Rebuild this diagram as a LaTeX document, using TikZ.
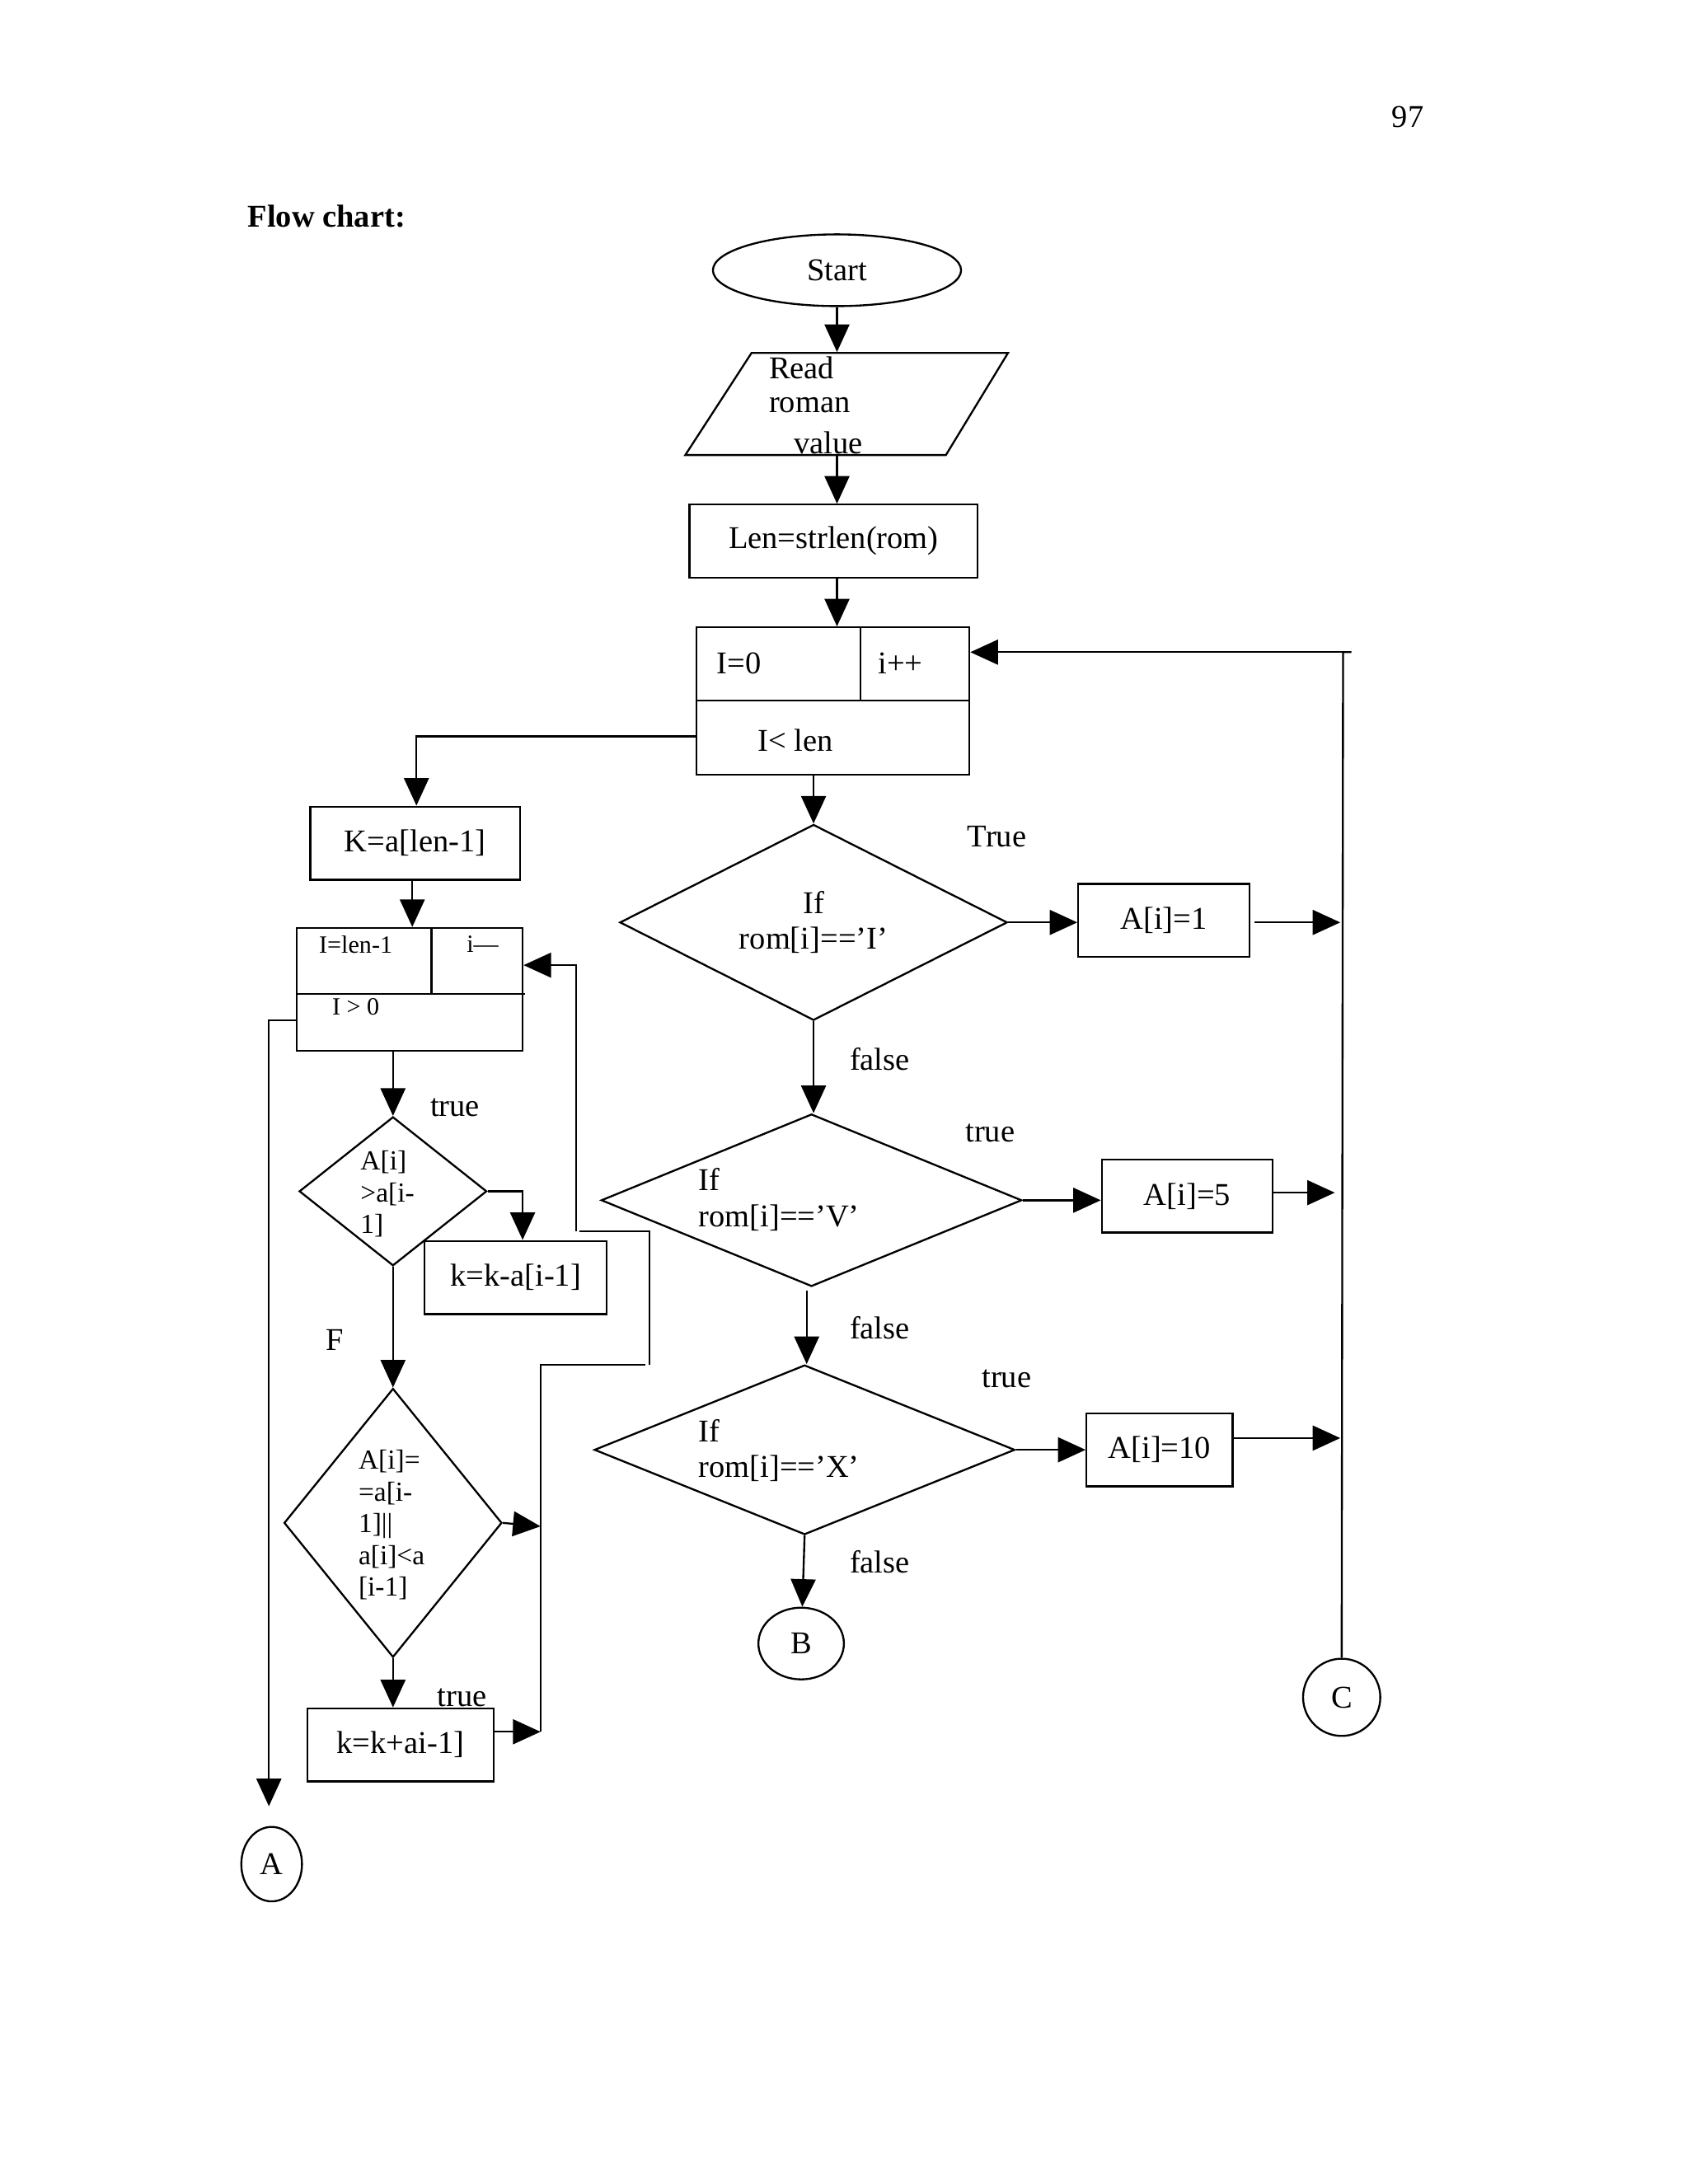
\documentclass[tikz,border=0pt]{standalone}
\usepackage{fontspec}
\setmainfont{Liberation Serif}
\usetikzlibrary{arrows.meta,shapes.geometric}
\begin{document}
\begin{tikzpicture}[x=0.5pt,y=-0.5pt,line width=0.7pt,font=\fontsize{11.5}{13}\selectfont,
  box/.style={draw,rectangle,inner sep=0pt},
  dia/.style={draw,diamond,inner sep=0pt},
  circ/.style={draw,ellipse,inner sep=0pt},
  lbl/.style={inner sep=0pt},
  arr/.style={-{Triangle[length=10pt,width=9pt]}}]
\useasboundingbox (0,0) rectangle (1224,1584);
\node[lbl] (pg) at (1021,85) {97};
\node[lbl,anchor=west,font=\fontsize{11.5}{13}\selectfont\bfseries] (title) at (179,157) {Flow chart:};

% main column
\node[circ,minimum width=90pt,minimum height=26pt] (start) at (607,196) {Start};
\draw (497,330) -- (545,256) -- (731,256) -- (686,330) -- cycle;
\node[lbl,minimum width=117pt,minimum height=37pt] (read) at (614,293) {};
\node[lbl,anchor=west] (r1) at (557,267) {Read};
\node[lbl,anchor=west] (r2) at (557,294) {roman};
\node[lbl,anchor=west] (r3) at (575,321) {value};
\node[box,minimum width=104.5pt,minimum height=26.5pt] (len) at (604.5,392.5) {Len=strlen(rom)};
\node[box,minimum width=99pt,minimum height=53.5pt] (loop) at (604,508.5) {};
\draw (loop.west |- 0,508) -- (loop.east |- 0,508);
\draw (624,455) -- (624,508);
\node[lbl] (i0) at (536,481) {I=0};
\node[lbl] (ipp) at (653,481) {i++};
\node[lbl] (ilen) at (577,537) {I< len};

\draw[arr] (start) -- (start |- read.north);
\draw[arr] (607,330) -- (len.north -| 607,0);
\draw[arr] (607,419) -- (loop.north -| 607,0);

\node[dia,minimum width=140.5pt,minimum height=71pt] (d1) at (590,669) {};
\node[lbl,align=center] at (590,669) {If\\rom[i]==’I’};
\node[dia,minimum width=152.5pt,minimum height=62.5pt] (d2) at (588.5,870.5) {};
\node[lbl,align=left] at (565,870) {If\\rom[i]==’V’};
\node[dia,minimum width=152.5pt,minimum height=61.5pt] (d3) at (583.5,1051.5) {};
\node[lbl,align=left] at (565,1052) {If\\rom[i]==’X’};
\node[circ,minimum width=31pt,minimum height=26pt] (B) at (581,1192) {B};

\draw[arr] (590,562) -- (d1.north);
\draw[arr] (d1.south) -- (d2.north -| d1.south);
\draw[arr] (585,936) -- (d3.north -| 585,0);
\draw[arr] (d3.south) -- (B);
\node[lbl] at (723,607) {True};
\node[lbl] at (638,768) {false};
\node[lbl] at (718,822) {true};
\node[lbl] at (638,963) {false};
\node[lbl] at (730,1000) {true};
\node[lbl] at (638,1133) {false};

\node[box,minimum width=62pt,minimum height=26.5pt] (a1) at (844,667.5) {A[i]=1};
\node[box,minimum width=62pt,minimum height=26.5pt] (a5) at (861,867.5) {A[i]=5};
\node[box,minimum width=53pt,minimum height=26.5pt] (a10) at (841,1051.5) {A[i]=10};
\draw[arr] (d1.east) -- (a1.west |- d1.east);
\draw[arr] (d2.east) -- (a5.west |- d2.east);
\draw[arr] (d3.east) -- (a10.west |- d3.east);
\coordinate (c1) at (972,669);
\coordinate (c5) at (968,865);
\coordinate (c10) at (972,1043);
\draw[arr] (910,669) -- (c1);
\draw[arr] (a5.east |- c5) -- (c5);
\draw[arr] (a10.east |- c10) -- (c10);

\node[circ,minimum width=28pt,minimum height=28pt] (C) at (973,1231) {C};
\coordinate (ctop) at (980,473);
\draw (C.north) -- (974,473) -- (ctop);
\draw[arr] (974,473) -- (loop.east |- 0,473);

% left column
\coordinate (kl) at (302,534);
\node[box,minimum width=76pt,minimum height=26.5pt] (K) at (301,611.5) {K=a[len-1]};
\draw[arr] (loop.west |- kl) -- (kl) -- (K.north -| kl);
\node[box,minimum width=82pt,minimum height=44.5pt] (lp2) at (297,717.5) {};
\draw (215,721) -- (381,721);
\draw (313,673) -- (313,721);
\node[lbl,font=\fontsize{9}{10}\selectfont] at (258,685) {I=len-1};
\node[lbl,font=\fontsize{9}{10}\selectfont] at (350,685) {i—};
\node[lbl,font=\fontsize{9}{10}\selectfont] at (258,730) {I > 0};
\draw[arr] (299,638) -- (lp2.north -| 299,0);

\node[circ,minimum width=22pt,minimum height=27pt] (A) at (197,1352) {A};
\coordinate (aend) at (195,1310);
\draw[arr] (lp2.west |- 0,740) -- (195,740) -- (aend);

\node[dia,minimum width=68pt,minimum height=54pt] (d4) at (285,864) {};
\node[lbl,align=left,font=\fontsize{10}{11.5}\selectfont] at (281,866) {A[i]\\>a[i-\\1]};
\node[lbl] at (330,803) {true};
\draw[arr] (285,762) -- (d4.north);
\node[box,minimum width=66pt,minimum height=26.5pt] (kk) at (374,926.5) {k=k-a[i-1]};
\draw[arr] (d4.east) -- (379,864) -- (kk.north -| 379,0);

\node[dia,minimum width=79pt,minimum height=97.5pt] (d5) at (285,1104.5) {};
\node[lbl,align=left,font=\fontsize{10}{11.5}\selectfont] at (284,1106) {A[i]=\\=a[i-\\1]||\\a[i]<a\\{}[i-1]};
\node[lbl] at (243,972) {F};
\draw[arr] (d4.south) -- (d5.north);
\node[box,minimum width=67.5pt,minimum height=26.5pt] (kp) at (290.5,1265.5) {k=k+ai-1]};
\node[lbl] at (335,1231) {true};
\draw[arr] (d5.south) -- (kp.north -| d5.south);

\coordinate (j1) at (392,1107);
\coordinate (j2) at (392,1256);
\draw[arr] (d5.east) -- (j1);
\draw[arr] (kp.east |- j2) -- (j2);
\draw (j2) -- (392,990) -- (468,990);
\draw (471,990) -- (471,893) -- (420,893);
\draw[arr] (418,893) -- (418,700) -- (lp2.east |- 0,700);
\end{tikzpicture}
\end{document}
